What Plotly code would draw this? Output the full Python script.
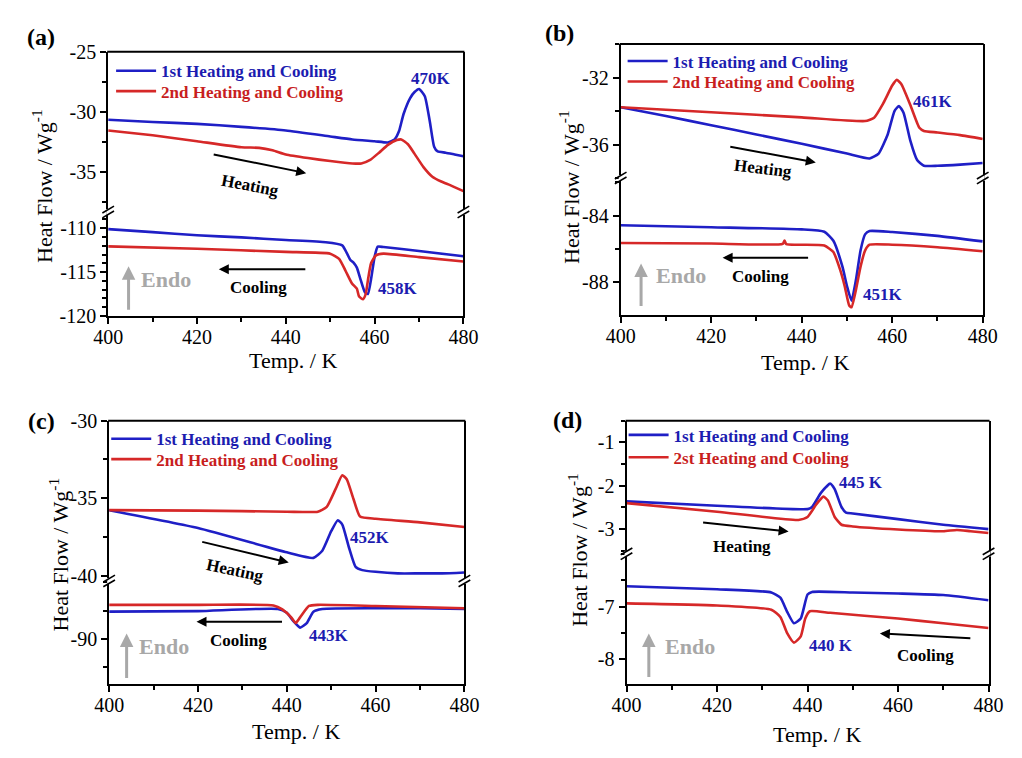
import plotly.graph_objects as go

W, H = 1022, 758

# ---------------- data ----------------
# Panel (a)
A_H1_T = [400, 410, 420, 430, 440, 450, 455, 460, 463, 464.5, 465.5, 466.5, 468, 469, 470, 471.3, 472.4, 473.4, 474.2, 476, 478, 480]
A_H1_V = [-30.66, -30.85, -31.0, -31.25, -31.55, -32.05, -32.3, -32.45, -32.55, -32.3, -31.6, -30.2, -28.85, -28.35, -28.1, -28.7, -30.74, -32.9, -33.3, -33.4, -33.55, -33.7]
A_H2_T = [400, 410, 420, 430, 434, 437, 440, 445, 450, 455, 457, 459, 461, 463, 465, 466, 467.5, 469, 471, 473, 475, 477, 480]
A_H2_V = [-31.55, -31.95, -32.45, -32.95, -33.0, -33.2, -33.55, -33.85, -34.1, -34.3, -34.3, -34.0, -33.4, -32.75, -32.35, -32.3, -32.7, -33.5, -34.6, -35.4, -35.8, -36.1, -36.6]
A_C1_T = [400, 410, 420, 430, 440, 449, 452.7, 453.8, 454.5, 455.2, 456.0, 456.8, 457.8, 458.5, 459.2, 460.0, 460.7, 462, 470, 480]
A_C1_V = [-110.1, -110.45, -110.8, -111.05, -111.35, -111.6, -111.95, -112.9, -113.6, -113.9, -114.5, -115.8, -117.3, -117.5, -115.8, -113.25, -112.1, -112.15, -112.6, -113.2]
A_C2_T = [400, 420, 440, 450, 452, 453.4, 454.9, 456, 456.5, 457.4, 458, 458.5, 459.2, 460.3, 462, 470, 480]
A_C2_V = [-112.07, -112.35, -112.7, -112.9, -113.5, -114.8, -116.3, -116.9, -117.8, -118.1, -117.5, -115.9, -114.0, -113.1, -112.9, -113.3, -113.8]

# Panel (b)
B_H1_T = [400, 410, 420, 430, 440, 450, 455, 457, 459, 460.5, 461.5, 462.5, 464, 465.5, 467, 470, 475, 480]
B_H1_V = [-33.78, -34.3, -34.85, -35.4, -35.96, -36.54, -36.83, -36.54, -35.4, -34.0, -33.7, -34.1, -35.77, -36.93, -37.27, -37.27, -37.2, -37.1]
B_H2_T = [400, 420, 440, 454, 456, 458, 460, 461, 462, 464, 466, 467, 470, 475, 480]
B_H2_V = [-33.78, -34.07, -34.38, -34.6, -34.4, -33.55, -32.48, -32.14, -32.39, -33.64, -35.0, -35.19, -35.28, -35.44, -35.67]
B_C1_T = [400, 420, 440, 445, 447, 449, 450, 451, 452, 453, 454, 455, 460, 470, 480]
B_C1_V = [-84.58, -84.7, -84.83, -84.97, -85.51, -87.07, -88.23, -89.1, -87.84, -86.1, -85.13, -84.93, -84.99, -85.22, -85.55]
B_C2_T = [400, 420, 435.8, 436.2, 436.6, 440, 445, 447, 448.5, 449.5, 450.5, 451, 452, 453, 454, 455, 460, 470, 480]
B_C2_V = [-85.65, -85.68, -85.7, -85.5, -85.72, -85.75, -85.8, -86.19, -87.26, -88.23, -89.4, -89.5, -88.43, -87.07, -86.1, -85.75, -85.75, -85.9, -86.14]

# Panel (c)
C_H1_T = [400, 420, 440, 446, 448, 450, 451.5, 452.5, 454, 455.5, 457, 460, 465, 470, 475, 480]
C_H1_V = [-35.77, -36.92, -38.49, -38.85, -38.39, -37.13, -36.42, -36.7, -38.18, -39.43, -39.64, -39.75, -39.85, -39.85, -39.85, -39.79]
C_H2_T = [400, 420, 440, 447, 449, 451, 452.5, 453.5, 455, 456.5, 460, 470, 480]
C_H2_V = [-35.77, -35.8, -35.87, -35.87, -35.56, -34.4, -33.52, -33.77, -35.03, -36.18, -36.33, -36.56, -36.86]
C_C1_T = [400, 420, 438, 440, 441.5, 443, 444.5, 446, 448, 460, 470, 480]
C_C1_V = [-87.6, -87.55, -87.36, -87.7, -88.44, -89.0, -88.6, -87.6, -87.36, -87.3, -87.3, -87.36]
C_C2_T = [400, 420, 437, 439, 441, 442, 443, 445, 447, 460, 480]
C_C2_V = [-87.0, -87.0, -87.05, -87.4, -88.1, -88.6, -88.1, -87.1, -87.0, -87.1, -87.3]

# Panel (d)
D_H1_T = [400, 420, 440, 441, 443, 445, 446, 447.5, 448.5, 450, 460, 470, 480]
D_H1_V = [-2.36, -2.46, -2.54, -2.49, -2.16, -1.95, -2.08, -2.49, -2.62, -2.64, -2.77, -2.9, -3.0]
D_H2_T = [400, 420, 438, 440, 442, 443.5, 444.5, 446, 447.5, 450, 460, 470, 473, 476, 480]
D_H2_V = [-2.40, -2.6, -2.79, -2.72, -2.42, -2.25, -2.34, -2.72, -2.9, -2.94, -3.01, -3.05, -3.02, -3.05, -3.09]
D_C1_T = [400, 420, 432, 434, 435.5, 437, 438.5, 440, 441, 450, 460, 470, 480]
D_C1_V = [-6.61, -6.67, -6.73, -6.83, -7.1, -7.32, -7.23, -6.77, -6.72, -6.73, -6.75, -6.78, -6.88]
D_C2_T = [400, 420, 432, 434, 435.5, 437, 438.5, 439.5, 440.5, 445, 460, 470, 480]
D_C2_V = [-6.94, -6.98, -7.06, -7.2, -7.51, -7.69, -7.57, -7.23, -7.09, -7.12, -7.23, -7.32, -7.41]

# tick labels
X_TICKS = [400, 420, 440, 460, 480]
A_UP_TICKS = [-35, -30, -25]
A_LO_TICKS = [-120, -115, -110]
B_UP_TICKS = [-36, -32]
B_LO_TICKS = [-88, -84]
C_UP_TICKS = [-40, -35, -30]
C_LO_TICKS = [-90]
D_UP_TICKS = [-3, -2, -1]
D_LO_TICKS = [-8, -7]

LEGEND_1 = "1st Heating and Cooling"
LEGEND_2 = ["2nd Heating and Cooling", "2nd Heating and Cooling", "2nd Heating and Cooling", "2st Heating and Cooling"]
PEAK_LABELS = [("470K", "458K"), ("461K", "451K"), ("452K", "443K"), ("445 K", "440 K")]
PANEL_LABELS = ["(a)", "(b)", "(c)", "(d)"]

# ---------------- styling / layout ----------------
BLUE = "#1f1fc6"
RED = "#d62828"
TXT_BLUE = "#1c1cb0"
TXT_RED = "#c81e1e"
GREY = "#a8a8a8"
FONT = "Liberation Serif"


def px(x):
    return x / W


def py(y):
    return 1 - y / H


panels = [
    dict(data=[(A_H1_T, A_H1_V), (A_H2_T, A_H2_V), (A_C1_T, A_C1_V), (A_C2_T, A_C2_V)],
         left=96, right=462, top=42, brk=207, bottom=314,
         up=[-38.34, -25], lo=[-120, -108.15],
         upt=A_UP_TICKS, lot=A_LO_TICKS, upm=(-25, 2.5), lom=(-110, 1),
         leg=(151, 62, 83),
         peak1=(429, 70), peak2=(395, 286), plab=(27, 27),
         heat_arrow=((206, 148), (300, 167)), heat_txt=(242, 180, 11),
         cool_arrow=((298, 266), (210, 266)), cool_txt=(251, 285),
         endo=(117, 308, 263), endo_txt=(156, 277),
         xt=(286, 360), yt=(28, 180)),
    dict(data=[(B_H1_T, B_H1_V), (B_H2_T, B_H2_V), (B_C1_T, B_C1_V), (B_C2_T, B_C2_V)],
         left=624, right=997, top=34, brk=172, bottom=313,
         up=[-38.0, -30.0], lo=[-89.96, -81.75],
         upt=B_UP_TICKS, lot=B_LO_TICKS, upm=(-32, 2), lom=(-84, 2),
         leg=(678, 52, 73),
         peak1=(946, 93), peak2=(894, 292), plab=(561, 23),
         heat_arrow=((738, 140), (825, 156)), heat_txt=(771, 162, 7),
         cool_arrow=((816, 254), (729, 254)), cool_txt=(768, 273),
         endo=(645, 304, 260), endo_txt=(686, 272),
         xt=(814, 362), yt=(571, 181)),
    dict(data=[(C_H1_T, C_H1_V), (C_H2_T, C_H2_V), (C_C1_T, C_C1_V), (C_C2_T, C_C2_V)],
         left=97, right=463, top=422, brk=587, bottom=693,
         up=[-40.34, -30], lo=[-93.95, -84.9],
         upt=C_UP_TICKS, lot=C_LO_TICKS, upm=(-30, 2.5), lom=(-90, 2.5),
         leg=(146, 441, 462),
         peak1=(366, 542), peak2=(323, 643), plab=(27, 422),
         heat_arrow=((194, 547), (282, 568)), heat_txt=(227, 576, 12),
         cool_arrow=((274, 629), (187, 629)), cool_txt=(230, 648),
         endo=(115, 687, 641), endo_txt=(154, 654),
         xt=(289, 742), yt=(45, 560)),
    dict(data=[(D_H1_T, D_H1_V), (D_H2_T, D_H2_V), (D_C1_T, D_C1_V), (D_C2_T, D_C2_V)],
         left=630, right=1003, top=422, brk=559, bottom=693,
         up=[-3.57, -0.5], lo=[-8.48, -5.99],
         upt=D_UP_TICKS, lot=D_LO_TICKS, upm=(-1, 0.5), lom=(-7, 0.5),
         leg=(679, 437, 460),
         peak1=(872, 486), peak2=(841, 653), plab=(569, 421),
         heat_arrow=((710, 527), (797, 536)), heat_txt=(749, 551, 0),
         cool_arrow=((983, 646), (891, 641)), cool_txt=(938, 664),
         endo=(653, 686, 641), endo_txt=(695, 655),
         xt=(826, 745), yt=(580, 555)),
]

fig = go.Figure()
layout = dict(width=W, height=H, autosize=False,
              margin=dict(l=0, r=0, t=0, b=0),
              paper_bgcolor="white", plot_bgcolor="white",
              font=dict(family=FONT, color="black"),
              showlegend=True)
shapes = []
annotations = []

tickfont = dict(family=FONT, size=20, color="black")

for i, p in enumerate(panels):
    xname = "x" if i == 0 else f"x{i+1}"
    lo_id = 2 * i + 1
    up_id = 2 * i + 2
    ylo = "y" if lo_id == 1 else f"y{lo_id}"
    yup = f"y{up_id}"
    legnames = ["legend" if i == 0 else f"legend{2*i+1}", f"legend{2*i+2}"]

    colors = [BLUE, RED, BLUE, RED]
    yrefs = [yup, yup, ylo, ylo]
    names = [f"<b><span style='color:{TXT_BLUE}'>{LEGEND_1}</span></b>",
             f"<b><span style='color:{TXT_RED}'>{LEGEND_2[i]}</span></b>", "", ""]
    for k, (t, v) in enumerate(p["data"]):
        fig.add_trace(go.Scatter(
            x=t, y=v, mode="lines", xaxis=xname, yaxis=yrefs[k],
            line=dict(color=colors[k], width=2.6, shape="spline", smoothing=0.5),
            name=names[k], showlegend=(k < 2), legend=legnames[k % 2], hoverinfo="skip"))

    xd = [px(p["left"]), px(p["right"])]
    xkey = "xaxis" if i == 0 else f"xaxis{i+1}"
    layout[xkey] = dict(domain=xd, anchor=ylo, range=[400, 480],
                        tickmode="array", tickvals=X_TICKS, ticktext=[str(v) for v in X_TICKS],
                        ticks="outside", ticklen=6, tickwidth=1.5, tickcolor="black",
                        ticklabelstandoff=-4,
                        minor=dict(tick0=410, dtick=20, ticks="outside", ticklen=4, tickwidth=1.5, tickcolor="black"),
                        showline=True, linewidth=2, linecolor="black",
                        showgrid=False, zeroline=False, tickfont=tickfont, fixedrange=True)
    ylokey = "yaxis" if lo_id == 1 else f"yaxis{lo_id}"
    yupkey = f"yaxis{up_id}"
    common = dict(anchor=xname, ticks="outside", ticklen=6, tickwidth=1.5, tickcolor="black",
                  showline=True, mirror=True, linewidth=2, linecolor="black",
                  showgrid=False, zeroline=False, tickfont=tickfont, fixedrange=True)
    layout[ylokey] = dict(domain=[py(p["bottom"]), py(p["brk"])], range=p["lo"],
                          tickmode="array", tickvals=p["lot"], ticktext=[str(v) for v in p["lot"]],
                          minor=dict(tick0=p["lom"][0], dtick=p["lom"][1], ticks="outside", ticklen=4,
                                     tickwidth=1.5, tickcolor="black"),
                          **common)
    layout[yupkey] = dict(domain=[py(p["brk"]), py(p["top"])], range=p["up"],
                          tickmode="array", tickvals=p["upt"], ticktext=[str(v) for v in p["upt"]],
                          minor=dict(tick0=p["upm"][0], dtick=p["upm"][1], ticks="outside", ticklen=4,
                                     tickwidth=1.5, tickcolor="black"),
                          **common)
    # one legend per entry so each row sits where the reference has it
    for j, ln in enumerate(legnames):
        layout[ln] = dict(x=px(p["leg"][0] - 52), y=py(p["leg"][1 + j]), xanchor="left", yanchor="middle",
                          bgcolor="rgba(0,0,0,0)", borderwidth=0, itemwidth=40,
                          font=dict(family=FONT, size=17), itemclick=False, itemdoubleclick=False)

    # top border of frame
    shapes.append(dict(type="line", xref="paper", yref="paper",
                       x0=px(p["left"] - 1), x1=px(p["right"] + 1), y0=py(p["top"]), y1=py(p["top"]),
                       line=dict(color="black", width=2)))
    # axis break marks
    for xe in (p["left"], p["right"]):
        b = p["brk"]
        shapes.append(dict(type="line", xref="paper", yref="paper",
                           x0=px(xe), x1=px(xe), y0=py(b - 3), y1=py(b + 3),
                           line=dict(color="white", width=4)))
        for off in (-2.5, 2.5):
            shapes.append(dict(type="line", xref="paper", yref="paper",
                               x0=px(xe - 6), y0=py(b + off + 3.5), x1=px(xe + 6), y1=py(b + off - 3.5),
                               line=dict(color="black", width=1.6)))

    def text(x, y, s, size=17, color="black", bold=True, angle=0):
        annotations.append(dict(x=px(x), y=py(y), xref="paper", yref="paper", showarrow=False,
                                text=(f"<b>{s}</b>" if bold else s), textangle=angle,
                                font=dict(family=FONT, size=size, color=color),
                                xanchor="center", yanchor="middle"))

    def arrow(tail, head, color="black", width=2, ah=2, size=1.0):
        annotations.append(dict(x=px(head[0]), y=py(head[1]), xref="paper", yref="paper",
                                ax=tail[0] - head[0], ay=tail[1] - head[1], axref="pixel", ayref="pixel",
                                text="", showarrow=True, arrowhead=ah, arrowsize=size,
                                arrowwidth=width, arrowcolor=color, standoff=0))

    text(*p["plab"], PANEL_LABELS[i], size=24)
    text(*p["peak1"], PEAK_LABELS[i][0], color=TXT_BLUE)
    text(*p["peak2"], PEAK_LABELS[i][1], color=TXT_BLUE)
    arrow(*p["heat_arrow"])
    text(p["heat_txt"][0], p["heat_txt"][1], "Heating", angle=p["heat_txt"][2])
    arrow(*p["cool_arrow"])
    text(*p["cool_txt"], "Cooling")
    ex, ey0, ey1 = p["endo"]
    arrow((ex, ey0), (ex, ey1), color=GREY, width=3, ah=2, size=0.9)
    text(*p["endo_txt"], "Endo", size=22, color=GREY)
    text(*p["xt"], "Temp. / K", size=22, bold=False)
    text(*p["yt"], "Heat Flow / Wg<sup>-1</sup>", size=22, bold=False, angle=-90)

layout["shapes"] = shapes
layout["annotations"] = annotations
fig.update_layout(**layout)
fig.write_html("out.html")
